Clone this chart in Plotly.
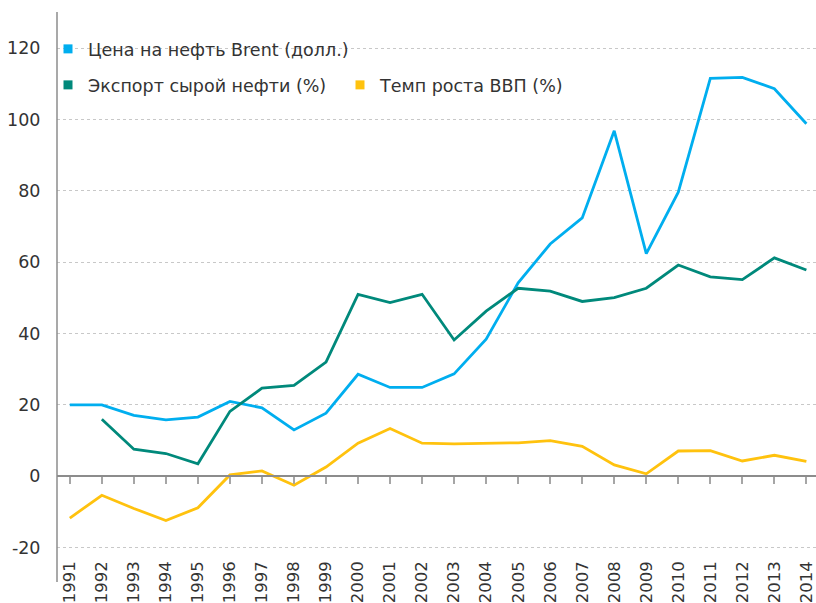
import plotly.graph_objects as go

years = list(range(1991, 2015))
brent = [20.0, 20.0, 17.1, 15.8, 16.6, 21.0, 19.2, 13.0, 17.7, 28.6, 24.9, 24.9, 28.7, 38.4,
         54.2, 65.1, 72.4, 96.8, 62.4, 79.6, 111.5, 111.8, 108.6, 98.8]
export_years = list(range(1992, 2015))
export_oil = [16.0, 7.6, 6.4, 3.5, 18.2, 24.7, 25.5, 32.0, 51.0, 48.7, 51.0, 38.2, 46.3, 52.7,
              51.9, 49.0, 50.1, 52.7, 59.2, 55.9, 55.1, 61.2, 57.8]
gdp = [-11.7, -5.3, -9.0, -12.4, -8.8, 0.4, 1.5, -2.5, 2.6, 9.3, 13.4, 9.3, 9.1, 9.3,
       9.4, 10.0, 8.4, 3.2, 0.7, 7.1, 7.2, 4.3, 5.9, 4.2]

names = ["Цена на нефть Brent (долл.)", "Экспорт сырой нефти (%)", "Темп роста ВВП (%)"]
colors = ["#00AEEF", "#00897B", "#FFC20E"]
y_ticks = [-20, 0, 20, 40, 60, 80, 100, 120]
y_ticktext = ["-20", "0", "20", "40", "60", "80", "100", "120"]

FONT = "DejaVu Sans"
TXT = "#333333"
FS = 17.5

W, H = 816, 603
ML, MT, MB = 57, 12, 46
PW = W - ML
PH = H - MT - MB

fig = go.Figure()
fig.add_trace(go.Scatter(x=years, y=brent, mode="lines", line=dict(color=colors[0], width=2.8),
                         showlegend=False))
fig.add_trace(go.Scatter(x=export_years, y=export_oil, mode="lines", line=dict(color=colors[1], width=2.8),
                         showlegend=False))
fig.add_trace(go.Scatter(x=years, y=gdp, mode="lines", line=dict(color=colors[2], width=2.8),
                         showlegend=False, xaxis="x2"))

# legend-only entries with square swatches
legends = ["legend", "legend2", "legend3"]
for n, c, lg in zip(names, colors, legends):
    fig.add_trace(go.Scatter(x=[None], y=[None], mode="markers", name=n,
                             marker=dict(symbol="square", size=9, color=c),
                             legend=lg, showlegend=True))

xr = [1990.6, 2014.3]
yr = [-22.6, 130.1]

leg_common = dict(xanchor="left", yanchor="top", orientation="v",
                  bgcolor="rgba(0,0,0,0)", font=dict(size=FS, color=TXT))

fig.update_layout(
    width=W, height=H,
    margin=dict(l=ML, r=0, t=MT, b=MB),
    paper_bgcolor="white", plot_bgcolor="white",
    font=dict(family=FONT, size=FS, color=TXT),
    xaxis=dict(range=xr, tickmode="array", tickvals=years, ticktext=[str(y) for y in years],
               tickangle=-90, showgrid=False, zeroline=False, showline=False, ticks="",
               automargin=False, tickfont=dict(size=16.5, color=TXT)),
    xaxis2=dict(range=xr, overlaying="x", anchor="free", position=(0 - yr[0]) / (yr[1] - yr[0]),
                matches="x", tickmode="array", tickvals=years, showticklabels=False,
                ticks="outside", ticklen=7, tickwidth=1.5, tickcolor="#a6a6a6", automargin=False,
                showline=True, linecolor="#8c8c8c", linewidth=1.5, showgrid=False, zeroline=False),
    yaxis=dict(range=yr, tickmode="array", tickvals=y_ticks, ticktext=y_ticktext, showgrid=True,
               gridcolor="#c8c8c8", griddash="dot", gridwidth=1, zeroline=False,
               showline=False, ticks="outside", ticklen=12, tickcolor="rgba(0,0,0,0)",
               automargin=False, tickfont=dict(size=FS, color=TXT)),
    legend=dict(x=(48 - ML) / PW, y=1 - (31 - MT) / PH, **leg_common),
    legend2=dict(x=(48 - ML) / PW, y=1 - (67 - MT) / PH, **leg_common),
    legend3=dict(x=(340 - ML) / PW, y=1 - (67 - MT) / PH, **leg_common),
    shapes=[dict(type="line", xref="paper", yref="paper", x0=0, x1=0, y0=-(582 - (H - MB)) / PH, y1=1,
                 line=dict(color="#8c8c8c", width=1.5))],
)

fig.write_html("out.html", config={"displayModeBar": False},
               post_script="document.body.style.margin='0px';document.body.style.overflow='hidden';")
